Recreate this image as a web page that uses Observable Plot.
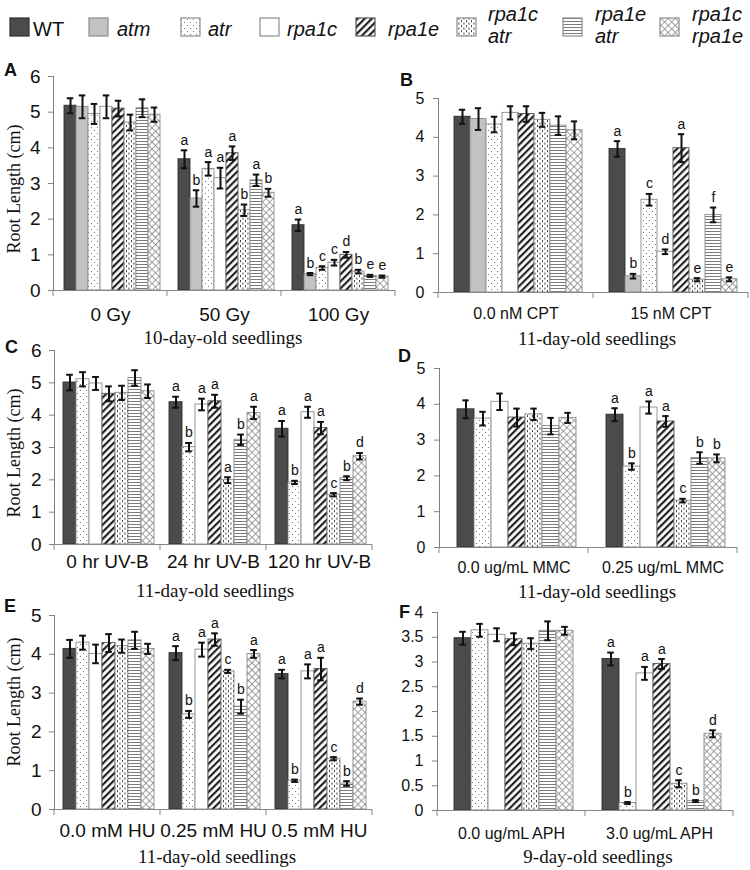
<!DOCTYPE html>
<html><head><meta charset="utf-8">
<script src="https://cdn.jsdelivr.net/npm/d3@7"></script>
<script src="https://cdn.jsdelivr.net/npm/@observablehq/plot@0.6"></script>
<style>
body{margin:0;background:#fff;}
#root{position:relative;width:750px;height:870px;overflow:hidden;background:#fff;}
.pl{position:absolute;}
.pl text{fill:#111;}
#overlay{position:absolute;left:0;top:0;pointer-events:none;}
</style></head><body>
<svg width="0" height="0" style="position:absolute">
<defs>
<pattern id="p-atr" width="6" height="6" patternUnits="userSpaceOnUse">
<rect width="6" height="6" fill="#fff"/>
<circle cx="1.5" cy="1.5" r="0.6" fill="#666"/><circle cx="4.5" cy="4.5" r="0.6" fill="#666"/>
</pattern>
<pattern id="p-rpa1e" width="5" height="5" patternUnits="userSpaceOnUse" patternTransform="rotate(45)">
<rect width="5" height="5" fill="#fff"/><rect x="0" y="0" width="2.2" height="5" fill="#222"/>
</pattern>
<pattern id="p-rpa1catr" width="5" height="5" patternUnits="userSpaceOnUse">
<rect width="5" height="5" fill="#fff"/>
<rect x="1" y="0" width="0.9" height="2.2" fill="#333"/><rect x="3.5" y="2.5" width="0.9" height="2.2" fill="#333"/>
</pattern>
<pattern id="p-rpa1eatr" width="4" height="3" patternUnits="userSpaceOnUse">
<rect width="4" height="3" fill="#fff"/><rect x="0" y="0" width="4" height="1" fill="#7a7a7a"/>
</pattern>
<pattern id="p-rpa1crpa1e" width="5" height="5" patternUnits="userSpaceOnUse" patternTransform="rotate(45)">
<rect width="5" height="5" fill="#fff"/><path d="M0 0.4H5M0.4 0V5" stroke="#8a8a8a" stroke-width="0.9" fill="none"/>
</pattern>
</defs></svg>
<div id="root"></div>
<script>
// ---------- data ----------
const genotypes = ["WT","atm","atr","rpa1c","rpa1e","rpa1c atr","rpa1e atr","rpa1c rpa1e"];
const genotypesNoAtm = ["WT","atr","rpa1c","rpa1e","rpa1c atr","rpa1e atr","rpa1c rpa1e"];

const groupsA = ["0 Gy","50 Gy","100 Gy"];
const valuesA = [[5.18,5.15,4.95,5.15,5.1,4.71,5.11,4.93],[3.68,2.58,3.41,3.15,3.85,2.25,3.09,2.74],[1.83,0.46,0.63,0.78,1.0,0.53,0.41,0.39]];
const errorsA = [[0.21,0.32,0.28,0.32,0.22,0.22,0.25,0.2],[0.25,0.23,0.19,0.29,0.19,0.16,0.16,0.11],[0.16,0.03,0.05,0.08,0.08,0.05,0.03,0.03]];
const lettersA = [[],["a","b","a","a","a","b","a","b"],["a","b","c","c","d","b","e","e"]];

const groupsB = ["0.0 nM CPT","15 nM CPT"];
const valuesB = [[4.53,4.47,4.33,4.63,4.6,4.45,4.3,4.18],[3.7,0.42,2.39,1.05,3.72,0.33,2.0,0.34]];
const errorsB = [[0.18,0.28,0.2,0.17,0.2,0.18,0.24,0.23],[0.2,0.06,0.15,0.06,0.36,0.04,0.19,0.05]];
const lettersB = [[],["a","b","c","d","a","e","f","e"]];

const groupsC = ["0 hr UV-B","24 hr UV-B","120 hr UV-B"];
const valuesC = [[5.01,5.11,4.98,4.66,4.69,5.15,4.74],[4.4,3.01,4.33,4.43,1.99,3.24,4.07],[3.58,1.92,4.09,3.6,1.54,2.05,2.73]];
const errorsC = [[0.24,0.22,0.2,0.23,0.22,0.24,0.21],[0.17,0.13,0.18,0.2,0.09,0.16,0.19],[0.24,0.05,0.17,0.19,0.05,0.06,0.1]];
const lettersC = [[],["a","b","a","a","a","b","a"],["a","b","a","a","c","b","d"]];

const groupsD = ["0.0 ug/mL MMC","0.25 ug/mL MMC"];
const valuesD = [[3.86,3.6,4.07,3.63,3.72,3.39,3.62],[3.71,2.26,3.91,3.52,1.31,2.5,2.49]];
const errorsD = [[0.25,0.19,0.23,0.25,0.16,0.23,0.14],[0.18,0.09,0.17,0.15,0.05,0.16,0.11]];
const lettersD = [[],["a","b","a","a","c","b","b"]];

const groupsE = ["0.0 mM HU","0.25 mM HU","0.5 mM HU"];
const valuesE = [[4.14,4.3,4.01,4.29,4.21,4.36,4.14],[4.03,2.45,4.12,4.38,3.56,2.65,4.01],[3.49,0.74,3.56,3.62,1.31,0.67,2.78]];
const errorsE = [[0.23,0.18,0.24,0.23,0.17,0.22,0.13],[0.18,0.09,0.18,0.16,0.04,0.18,0.1],[0.11,0.03,0.18,0.29,0.04,0.06,0.08]];
const lettersE = [[],["a","b","a","a","c","b","a"],["a","b","a","a","c","b","d"]];

const groupsF = ["0.0 ug/mL APH","3.0 ug/mL APH"];
const valuesF = [[3.48,3.64,3.55,3.46,3.37,3.63,3.63],[3.06,0.15,2.77,2.96,0.54,0.19,1.55]];
const errorsF = [[0.13,0.13,0.13,0.12,0.11,0.19,0.08],[0.13,0.02,0.13,0.1,0.07,0.02,0.07]];
const lettersF = [[],["a","b","a","a","c","b","d"]];

const ticks6 = [0,1,2,3,4,5,6];
const ticks5 = [0,1,2,3,4,5];
const ticks4 = [0,0.5,1,1.5,2,2.5,3,3.5,4];

const ageLabels = ["10-day-old seedlings","11-day-old seedlings","11-day-old seedlings","11-day-old seedlings","11-day-old seedlings","9-day-old seedlings"];
const panelLetters = ["A","B","C","D","E","F"];
const yTitle = "Root Length (cm)";

// ---------- styles ----------
const fills = {"WT":"#4b4b4b","atm":"#c2c2c2","atr":"url(#p-atr)","rpa1c":"#ffffff","rpa1e":"url(#p-rpa1e)",
  "rpa1c atr":"url(#p-rpa1catr)","rpa1e atr":"url(#p-rpa1eatr)","rpa1c rpa1e":"url(#p-rpa1crpa1e)"};
const strokes = {"WT":"#2e2e2e","atm":"#8c8c8c","atr":"#8c8c8c","rpa1c":"#8c8c8c","rpa1e":"#555",
  "rpa1c atr":"#8c8c8c","rpa1e atr":"#8c8c8c","rpa1c rpa1e":"#8c8c8c"};

const root = document.getElementById("root");

function drawPanel(cfg) {
  const rows = [];
  cfg.groups.forEach((g, i) => cfg.genos.forEach((k, j) => rows.push({
    group: g, geno: k, v: cfg.values[i][j], e: cfg.errors[i][j], letter: (cfg.letters[i] || [])[j] || ""
  })));
  const facetW = (cfg.width - cfg.ml - cfg.mr) / cfg.groups.length;
  const step = facetW / (cfg.genos.length + 2 * cfg.po);
  const inset = Math.max(0, (step - 7) / 2);
  const chart = Plot.plot({
    width: cfg.width, height: cfg.height,
    marginLeft: cfg.ml, marginRight: cfg.mr, marginTop: cfg.mt, marginBottom: cfg.mb,
    style: {fontFamily: "'Liberation Sans', Arial, sans-serif", fontSize: cfg.fs + "px", color: "#808080", background: "transparent", overflow: "visible"},
    fx: {domain: cfg.groups, paddingInner: 0, paddingOuter: 0, axis: "bottom", tickSize: 0, tickPadding: cfg.fxPad, label: null},
    x: {domain: cfg.genos, paddingInner: 0, paddingOuter: cfg.po, align: 0.6, axis: null},
    y: {domain: [0, cfg.ymax], ticks: cfg.ticks, tickSize: 5, tickPadding: cfg.tp, line: true, label: null, tickFormat: d => String(d)},
    marks: [
      ...cfg.genos.map(g => Plot.barY(rows.filter(r => r.geno === g), {
        fx: "group", x: "geno", y: "v", fill: fills[g], stroke: strokes[g], strokeWidth: 0.9
      })),
      Plot.ruleY([0], {stroke: "#888"}),
      Plot.ruleX(rows, {fx: "group", x: "geno", y1: r => r.v - r.e, y2: r => r.v + r.e, stroke: "#111", strokeWidth: 2}),
      Plot.tickY(rows, {fx: "group", x: "geno", y: r => r.v + r.e, stroke: "#111", strokeWidth: 2, insetLeft: inset, insetRight: inset}),
      Plot.tickY(rows, {fx: "group", x: "geno", y: r => r.v - r.e, stroke: "#111", strokeWidth: 2, insetLeft: inset, insetRight: inset}),
      Plot.text(rows.filter(r => r.letter), {fx: "group", x: "geno", y: r => r.v + r.e, text: "letter", dy: -10, fontSize: 14})
    ]
  });
  // group boundary ticks on the category axis
  const fx = chart.scale("fx"), y = chart.scale("y");
  const y0 = y.apply(0);
  const edges = fx.domain.map(d => fx.apply(d));
  edges.push(fx.apply(fx.domain[fx.domain.length - 1]) + fx.bandwidth);
  d3.select(chart).append("g").selectAll("line").data(edges).join("line")
    .attr("x1", d => d).attr("x2", d => d).attr("y1", y0).attr("y2", y0 + 6)
    .attr("stroke", "#888");
  const div = document.createElement("div");
  div.className = "pl";
  div.style.left = cfg.left + "px"; div.style.top = cfg.top + "px";
  div.style.width = cfg.width + "px"; div.style.height = cfg.height + "px";
  div.appendChild(chart);
  root.appendChild(div);
}

drawPanel({groups: groupsA, genos: genotypes, values: valuesA, errors: errorsA, letters: lettersA,
  left: 0, top: 60, width: 400, height: 275, ml: 53, mr: 5, mt: 16, mb: 45, ymax: 6, ticks: ticks6, fs: 19, tp: 8, fxPad: 17, po: 0.56});
drawPanel({groups: groupsB, genos: genotypes, values: valuesB, errors: errorsB, letters: lettersB,
  left: 375, top: 60, width: 375, height: 275, ml: 62, mr: 2, mt: 38, mb: 43, ymax: 5, ticks: ticks5, fs: 16, tp: 9, fxPad: 15, po: 0.68});
drawPanel({groups: groupsC, genos: genotypesNoAtm, values: valuesC, errors: errorsC, letters: lettersC,
  left: 0, top: 335, width: 380, height: 250, ml: 53, mr: 8, mt: 15, mb: 41, ymax: 6, ticks: ticks6, fs: 19, tp: 8, fxPad: 10, po: 0.5});
drawPanel({groups: groupsD, genos: genotypesNoAtm, values: valuesD, errors: errorsD, letters: lettersD,
  left: 375, top: 335, width: 375, height: 250, ml: 63, mr: 13, mt: 33, mb: 38, ymax: 5, ticks: ticks5, fs: 16, tp: 9, fxPad: 14, po: 0.75});
drawPanel({groups: groupsE, genos: genotypesNoAtm, values: valuesE, errors: errorsE, letters: lettersE,
  left: 0, top: 595, width: 380, height: 255, ml: 53, mr: 7, mt: 20, mb: 41, ymax: 5, ticks: ticks5, fs: 19, tp: 8, fxPad: 14, po: 0.5});
drawPanel({groups: groupsF, genos: genotypesNoAtm, values: valuesF, errors: errorsF, letters: lettersF,
  left: 375, top: 595, width: 375, height: 255, ml: 62, mr: 17, mt: 17, mb: 40, ymax: 4, ticks: ticks4, fs: 16, tp: 9, fxPad: 17, po: 0.75});

// ---------- overlay: legend, panel letters, titles ----------
const ov = d3.select(root).append("svg").attr("id", "overlay").attr("width", 750).attr("height", 870)
  .style("font-family", "'Liberation Sans', Arial, sans-serif");

const legendSwatchX = [10, 89, 181, 260, 356, 457, 563, 660];
const legendTextX = [33, 117, 208, 287, 388, 488, 595, 692];
genotypes.forEach((g, i) => {
  ov.append("rect").attr("x", legendSwatchX[i]).attr("y", 18).attr("width", 19).attr("height", 18)
    .attr("fill", fills[g]).attr("stroke", strokes[g]).attr("stroke-width", 1.2);
  const parts = g.split(" ");
  const t = ov.append("text").attr("font-size", 20).attr("fill", "#111")
    .attr("font-style", g === "WT" ? "normal" : "italic");
  if (parts.length === 1) {
    t.attr("x", legendTextX[i]).attr("y", 36).text(g);
  } else {
    t.append("tspan").attr("x", legendTextX[i]).attr("y", 21).text(parts[0]);
    t.append("tspan").attr("x", legendTextX[i]).attr("y", 43).text(parts[1]);
  }
});

const letterPos = [[4, 76], [400, 86], [5, 353], [398, 362], [4, 612], [399, 618]];
panelLetters.forEach((L, i) => ov.append("text").attr("x", letterPos[i][0]).attr("y", letterPos[i][1])
  .attr("font-size", 18).attr("font-weight", "bold").attr("fill", "#111").text(L));

const agePos = [[223, 344], [597, 345], [215, 597], [597, 598], [217, 863], [598, 863]];
ageLabels.forEach((s, i) => ov.append("text").attr("x", agePos[i][0]).attr("y", agePos[i][1])
  .attr("text-anchor", "middle").attr("font-family", "'Liberation Serif', 'Times New Roman', serif")
  .attr("font-size", 19).attr("fill", "#111").text(s));

const yTitlePos = [[20, 189], [20, 453], [20, 702]];
yTitlePos.forEach(p => ov.append("text").attr("transform", `translate(${p[0]},${p[1]}) rotate(-90)`)
  .attr("text-anchor", "middle").attr("font-family", "'Liberation Serif', 'Times New Roman', serif")
  .attr("font-size", 18).attr("fill", "#111").text(yTitle));
</script>
</body></html>
